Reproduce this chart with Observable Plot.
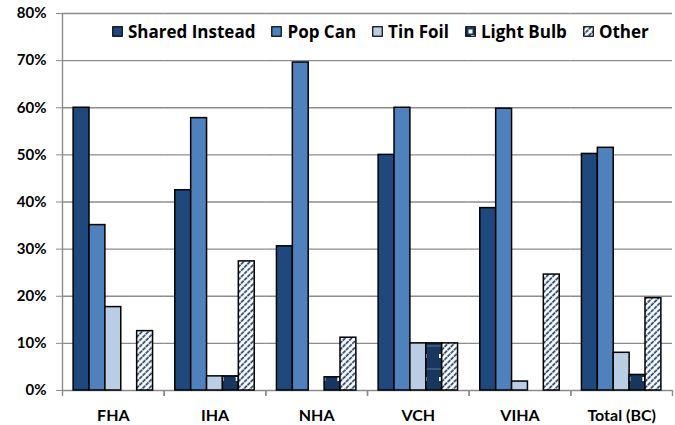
<!DOCTYPE html>
<html>
<head>
<meta charset="utf-8">
<script src="https://cdn.jsdelivr.net/npm/d3@7"></script>
<script src="https://cdn.jsdelivr.net/npm/@observablehq/plot@0.6"></script>
<style>
  html, body { margin: 0; padding: 0; background: #fff; overflow: hidden; }
  #wrap { position: relative; width: 675px; height: 425px; font-family: Lato, "Open Sans", sans-serif; }
  #legend { position: absolute; left: 112px; top: 20px; display: flex; align-items: center; gap: 16px;
            font-family: "Open Sans", sans-serif; font-size: 17px; font-weight: bold; color: #000; background: #fff; }
  .item { display: flex; align-items: center; gap: 5px; }
</style>
</head>
<body>
<svg width="0" height="0" style="position:absolute">
  <defs>
    <pattern id="hatch" width="4.5" height="4.5" patternUnits="userSpaceOnUse" patternTransform="rotate(45)">
      <rect width="4.5" height="4.5" fill="#fff"></rect>
      <line x1="2" y1="0" x2="2" y2="4.5" stroke="#1F3F6B" stroke-width="1.7" stroke-dasharray="2.6,0.8"></line>
    </pattern>
    <pattern id="bulb" width="16" height="23" patternUnits="userSpaceOnUse">
      <rect width="16" height="23" fill="#17375E"></rect>
      <rect x="6" y="9" width="4" height="4" fill="#fff"></rect>
      <line x1="0" y1="1" x2="16" y2="1" stroke="#8aa0bd" stroke-width="0.6"></line>
    </pattern>
  </defs>
</svg>
<div id="wrap">
  <div id="legend"></div>
  <div id="chart"></div>
</div>
<script>
const groups = ["FHA", "IHA", "NHA", "VCH", "VIHA", "Total (BC)"];
const series = ["Shared Instead", "Pop Can", "Tin Foil", "Light Bulb", "Other"];
const sharedInstead = [0.600, 0.425, 0.306, 0.500, 0.387, 0.502];
const popCan        = [0.351, 0.578, 0.696, 0.600, 0.598, 0.515];
const tinFoil       = [0.177, 0.030, 0.000, 0.100, 0.019, 0.080];
const lightBulb     = [0.000, 0.030, 0.028, 0.100, 0.000, 0.033];
const other         = [0.126, 0.274, 0.112, 0.100, 0.246, 0.196];
const yTicks = [0, 0.1, 0.2, 0.3, 0.4, 0.5, 0.6, 0.7, 0.8];
const fills = ["#1F497D", "#4F81BD", "#B9CDE5", "url(#bulb)", "url(#hatch)"];

const seriesValues = [sharedInstead, popCan, tinFoil, lightBulb, other];
const data = [];
groups.forEach((g, i) => series.forEach((s, j) => {
  data.push({group: g, series: s, value: seriesValues[j][i]});
}));
const bars = data.filter(d => d.value > 0);

const font = 'Lato, "Open Sans", sans-serif';
const W = 675, H = 425, mL = 62, mR = 3, mT = 13, mB = 35;
const step = (W - mL - mR) / groups.length;

const chart = Plot.plot({
  width: W,
  height: H,
  marginLeft: mL,
  marginRight: mR,
  marginTop: mT,
  marginBottom: mB,
  style: {fontFamily: font, background: "transparent"},
  fx: {domain: groups, padding: 0, round: false, label: null, axis: null},
  x: {domain: series, paddingInner: 0, paddingOuter: 0.7, round: false, axis: null},
  y: {domain: [0, 0.8], axis: null},
  color: {domain: series, range: fills},
  marks: [
    Plot.ruleY(yTicks, {stroke: "#8c8c8c", strokeWidth: 1.4}),
    Plot.barY(bars, {fx: "group", x: "series", y: "value", fill: "series", stroke: "#000", strokeWidth: 1.5}),
    Plot.axisY({ticks: yTicks, tickFormat: d3.format(".0%"), tickSize: 6, tickPadding: 10, stroke: "#8c8c8c",
                fill: "#000", fontSize: 15, fontWeight: "bold", label: null}),
    Plot.axisFx({anchor: "bottom", ticks: [groups[0]], tickSize: -(H - mT - mB), tickFormat: () => "", dx: -step / 2,
                 stroke: "#8c8c8c", strokeWidth: 1.4, label: null}),
    Plot.axisFx({anchor: "bottom", tickSize: 0, tickPadding: 19, fontSize: 16, fontWeight: "bold", fill: "#000", label: null}),
    Plot.axisFx({anchor: "bottom", tickSize: 6, tickFormat: () => "", dx: step / 2, stroke: "#8c8c8c", strokeWidth: 1.4, label: null}),
    Plot.axisFx({anchor: "bottom", tickSize: 6, tickFormat: () => "", dx: -step / 2, stroke: "#8c8c8c", strokeWidth: 1.4, label: null})
  ]
});
document.getElementById("chart").appendChild(chart);

const legend = document.getElementById("legend");
series.forEach((s, j) => {
  const item = document.createElement("div");
  item.className = "item";
  const sw = document.createElementNS("http://www.w3.org/2000/svg", "svg");
  sw.setAttribute("width", 11); sw.setAttribute("height", 11);
  const r = document.createElementNS("http://www.w3.org/2000/svg", "rect");
  r.setAttribute("x", 0.75); r.setAttribute("y", 0.75); r.setAttribute("width", 9.5); r.setAttribute("height", 9.5);
  r.setAttribute("fill", fills[j]); r.setAttribute("stroke", "#000"); r.setAttribute("stroke-width", 1.2);
  sw.appendChild(r);
  if (s === "Light Bulb") {
    const sq = document.createElementNS("http://www.w3.org/2000/svg", "rect");
    sq.setAttribute("x", 3.5); sq.setAttribute("y", 3.5); sq.setAttribute("width", 4); sq.setAttribute("height", 4);
    sq.setAttribute("fill", "#fff");
    sw.appendChild(sq);
  }
  const t = document.createElement("span");
  t.textContent = s;
  item.appendChild(sw); item.appendChild(t);
  legend.appendChild(item);
});
</script>
</body>
</html>
